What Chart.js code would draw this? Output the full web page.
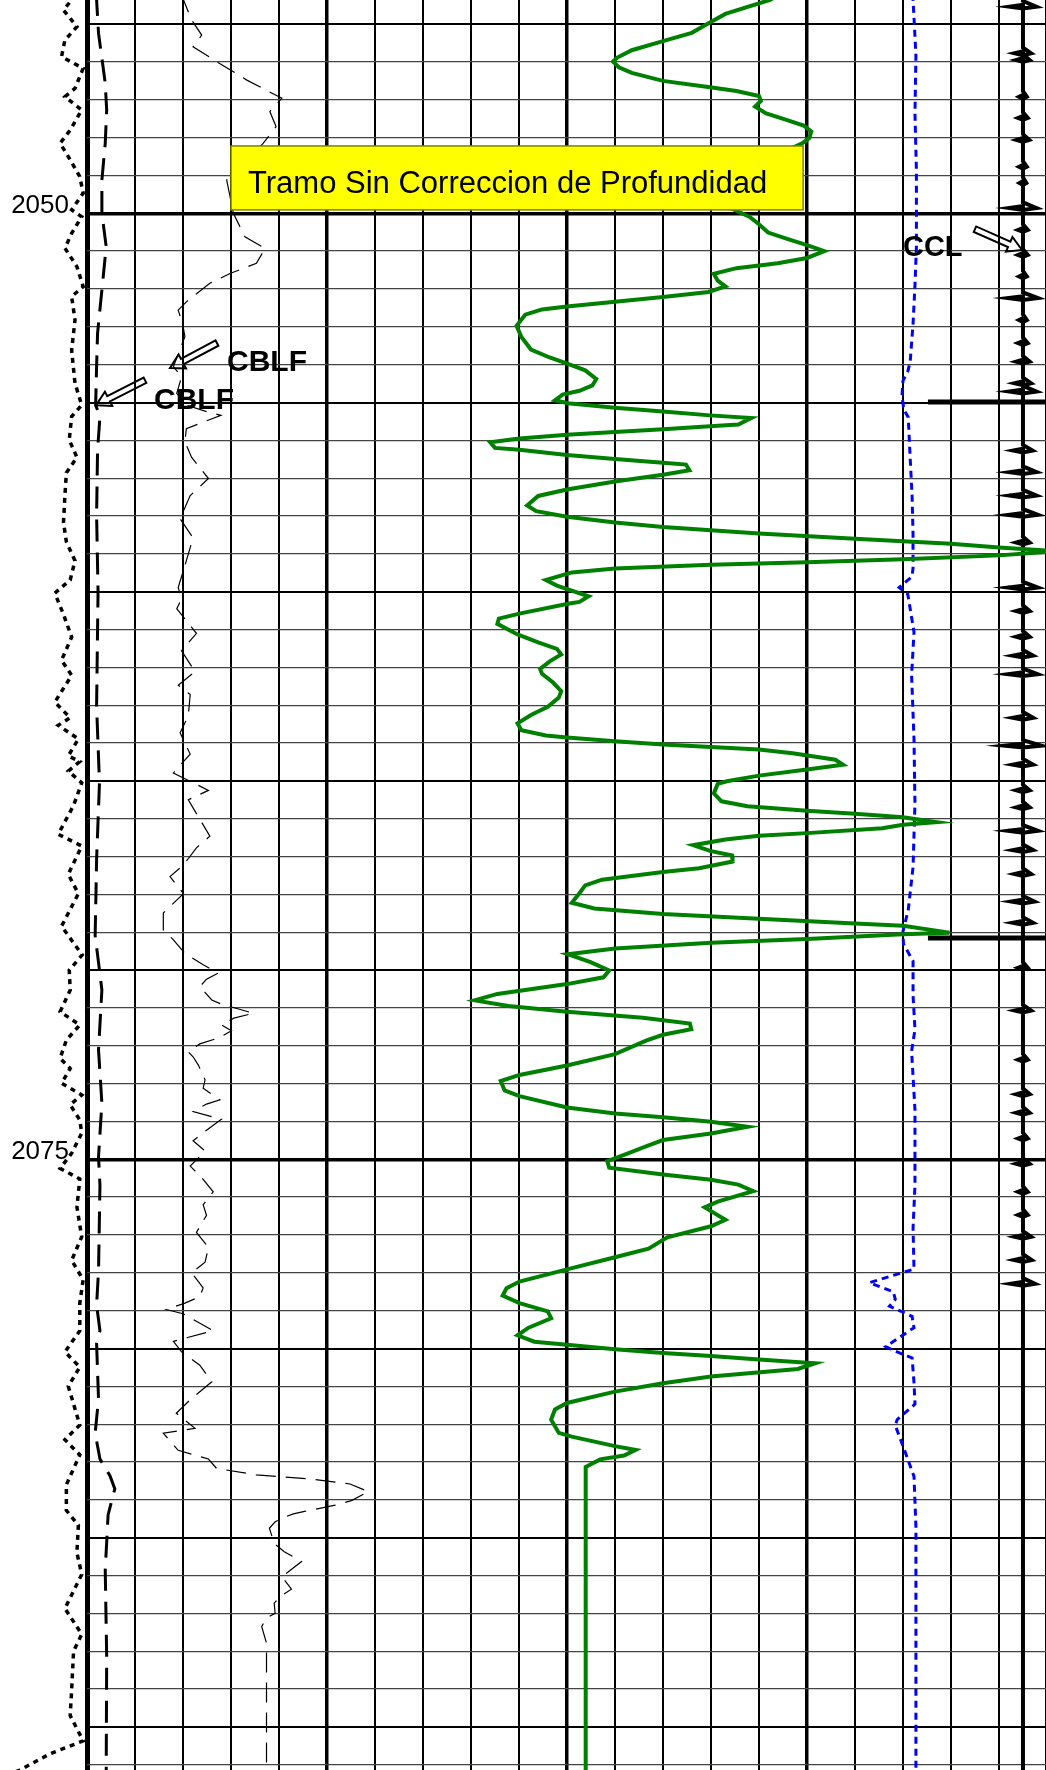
<!DOCTYPE html>
<html>
<head>
<meta charset="utf-8">
<title>Registro CBL</title>
<script src="https://cdn.jsdelivr.net/npm/chart.js@4.4.1/dist/chart.umd.min.js"></script>
<style>
  html, body { margin: 0; padding: 0; background: #fff; }
  #wrap { width: 1046px; height: 1770px; }
</style>
</head>
<body>
<div id="wrap"><canvas id="logChart" width="1046" height="1770"></canvas></div>
<script>
// depth window (m) and the track, counted in grid divisions
const depthTop = 2044.363;
const depthBottom = 2091.139;
const depthLabels = [2050, 2075];
const trackRight = 19.98;

// green amplitude curve
const ampDepth = [
  2044.2, 2044.36, 2044.73, 2044.98, 2045.23, 2045.45, 2045.69, 2045.89, 2045.99, 2046.14,
  2046.29, 2046.5, 2046.67, 2046.77, 2046.9, 2047.03, 2047.18, 2047.36, 2047.52, 2047.68,
  2047.84, 2048.01, 2048.16, 2048.5, 2048.9, 2049.4, 2049.8, 2050.09, 2050.29, 2050.51,
  2050.69, 2050.84, 2051.0, 2051.18, 2051.32, 2051.45, 2051.6, 2051.78, 2051.93, 2052.08,
  2052.21, 2052.34, 2052.46, 2052.54, 2052.68, 2052.97, 2053.27, 2053.6, 2053.81, 2053.98,
  2054.15, 2054.38, 2054.55, 2054.69, 2054.79, 2054.94, 2055.02, 2055.14, 2055.24, 2055.34,
  2055.41, 2055.58, 2055.63, 2055.71, 2055.78, 2055.85, 2055.95, 2056.05, 2056.2, 2056.25,
  2056.39, 2056.49, 2056.59, 2056.64, 2056.79, 2056.91, 2057.09, 2057.3, 2057.47, 2057.72,
  2057.87, 2058.02, 2058.17, 2058.29, 2058.46, 2058.6, 2058.73, 2058.83, 2058.93, 2059.04,
  2059.14, 2059.22, 2059.29, 2059.39, 2059.49, 2059.69, 2059.84, 2060.12, 2060.27, 2060.32,
  2060.58, 2060.71, 2060.85, 2061.13, 2061.34, 2061.51, 2061.66, 2061.84, 2062.04, 2062.17,
  2062.4, 2062.63, 2062.8, 2063.04, 2063.26, 2063.48, 2063.66, 2063.8, 2063.85, 2063.95,
  2064.04, 2064.17, 2064.27, 2064.44, 2064.57, 2064.7, 2064.86, 2065.01, 2065.08, 2065.33,
  2065.54, 2065.67, 2065.79, 2065.87, 2065.96, 2066.09, 2066.16, 2066.25, 2066.38, 2066.45,
  2066.55, 2066.7, 2066.85, 2066.97, 2067.13, 2067.31, 2067.41, 2067.61, 2067.76, 2067.97,
  2068.22, 2068.37, 2068.52, 2068.64, 2068.77, 2068.83, 2069.01, 2069.05, 2069.18, 2069.28,
  2069.43, 2069.58, 2069.79, 2070.01, 2070.19, 2070.37, 2070.63, 2070.8, 2070.95, 2071.1,
  2071.26, 2071.41, 2071.56, 2071.71, 2071.86, 2072.22, 2072.52, 2072.77, 2072.93, 2073.18,
  2073.33, 2073.63, 2073.79, 2073.89, 2074.01, 2074.14, 2074.32, 2074.49, 2074.65, 2074.88,
  2075.05, 2075.22, 2075.4, 2075.54, 2075.67, 2075.84, 2076.12, 2076.27, 2076.6, 2076.77,
  2077.06, 2077.36, 2077.59, 2077.91, 2078.23, 2078.41, 2078.6, 2078.8, 2079.02, 2079.2,
  2079.45, 2079.65, 2079.82, 2079.9, 2080.02, 2080.12, 2080.2, 2080.29, 2080.39, 2080.54,
  2080.74, 2080.92, 2081.14, 2081.44, 2081.61, 2081.88, 2082.23, 2082.33, 2082.58, 2082.68,
  2082.83, 2082.93, 2083.13, 2091.3
];
const ampValue = [
  14.45, 14.23, 13.3, 12.95, 12.6, 12.0, 11.35, 11.04, 10.96, 11.08,
  11.35, 12.0, 12.98, 13.53, 14.0, 14.04, 13.92, 14.15, 14.54, 14.93,
  15.09, 15.05, 14.89, 14.3, 13.4, 13.1, 13.3, 13.8, 14.0, 14.19,
  14.62, 15.0, 15.36, 15.0, 14.39, 13.53, 13.06, 13.14, 13.3, 12.95,
  12.0, 11.0, 10.0, 9.48, 9.13, 8.95, 9.05, 9.25, 9.64, 10.02,
  10.38, 10.61, 10.53, 10.26, 9.91, 9.75, 10.02, 11.0, 12.0, 12.98,
  13.84, 13.57, 12.98, 12.0, 11.0, 10.0, 9.01, 8.4, 8.5, 9.01,
  10.0, 11.0, 12.0, 12.48, 12.55, 12.0, 11.0, 10.0, 9.4, 9.17,
  9.36, 10.0, 11.0, 12.0, 14.0, 16.0, 18.0, 19.0, 20.2, 19.0,
  17.0, 15.0, 13.0, 11.0, 10.1, 9.56, 9.79, 10.45, 10.26, 10.02,
  9.01, 8.58, 8.55, 8.97, 9.4, 9.79, 9.88, 9.64, 9.44, 9.48,
  9.71, 9.88, 9.83, 9.6, 9.25, 8.97, 9.05, 9.56, 10.0, 11.0,
  12.0, 14.0, 14.7, 15.59, 15.75, 15.0, 14.0, 13.33, 13.14, 13.06,
  13.22, 13.76, 15.0, 16.0, 17.0, 17.7, 17.0, 16.57, 15.0, 14.0,
  13.3, 12.63, 12.98, 13.44, 13.45, 12.75, 12.0, 10.73, 10.38, 10.26,
  10.1, 10.57, 12.0, 14.0, 16.0, 17.0, 17.97, 17.0, 15.0, 13.0,
  11.0, 10.02, 10.49, 10.88, 10.76, 10.0, 8.55, 8.08, 8.78, 10.0,
  11.58, 12.56, 12.59, 12.0, 11.66, 11.0, 10.0, 9.01, 8.62, 8.7,
  9.01, 10.0, 11.0, 12.0, 13.0, 13.76, 13.0, 12.0, 11.66, 11.19,
  10.84, 10.88, 12.0, 13.0, 13.57, 13.88, 13.14, 12.87, 13.3, 13.0,
  12.09, 11.7, 11.0, 10.0, 9.01, 8.74, 8.66, 9.01, 9.6, 9.67,
  9.2, 8.97, 9.32, 10.0, 11.0, 12.0, 13.0, 14.0, 15.17, 14.81,
  13.0, 12.0, 11.0, 10.0, 9.75, 9.67, 9.83, 10.1, 11.0, 11.43,
  11.19, 10.69, 10.39, 10.39
];

// CBLF, fine scale (thin dashed)
const cblfDepth = [
  2044.2, 2044.36, 2044.89, 2045.29, 2045.6, 2045.99, 2046.48, 2046.96, 2047.31, 2047.71,
  2048.15, 2049.12, 2050.0, 2050.62, 2050.93, 2051.32, 2051.59, 2051.85, 2052.34, 2052.56,
  2052.91, 2053.26, 2054.05, 2054.32, 2054.76, 2055.07, 2055.24, 2055.34, 2055.69, 2056.04,
  2056.45, 2057.01, 2057.26, 2057.46, 2058.07, 2058.58, 2059.18, 2059.89, 2060.19, 2060.45,
  2061.1, 2061.56, 2062.11, 2062.47, 2062.72, 2063.28, 2063.73, 2064.29, 2064.79, 2065.25,
  2065.5, 2066.46, 2066.77, 2067.22, 2067.53, 2067.98, 2068.49, 2068.94, 2069.2, 2069.56,
  2069.86, 2070.08, 2070.24, 2070.44, 2070.79, 2070.9, 2071.14, 2071.27, 2071.45, 2071.6,
  2071.78, 2071.95, 2072.16, 2072.29, 2072.51, 2072.9, 2073.12, 2073.43, 2073.54, 2073.74,
  2073.94, 2074.23, 2074.51, 2074.78, 2075.18, 2075.47, 2075.86, 2076.2, 2076.48, 2076.93,
  2077.33, 2077.72, 2078.0, 2078.4, 2078.63, 2078.8, 2078.97, 2079.08, 2079.53, 2079.81,
  2080.09, 2080.44, 2080.88, 2081.32, 2081.71, 2082.11, 2082.24, 2082.69, 2082.92, 2083.17,
  2083.34, 2083.45, 2083.58, 2083.78, 2084.02, 2084.14, 2084.31, 2084.37, 2084.47, 2084.58,
  2084.75, 2085.15, 2085.37, 2085.63, 2086.03, 2086.36, 2086.56, 2086.73, 2087.0, 2087.13,
  2087.35, 2087.79, 2091.3
];
const cblfValue = [
  1.95, 2.01, 2.18, 2.39, 2.21, 2.7, 3.33, 4.06, 3.81, 3.94,
  3.67, 2.91, 3.05, 3.29, 3.71, 3.53, 2.98, 2.56, 2.07, 1.9,
  1.99, 2.04, 1.8, 1.97, 1.87, 2.07, 2.49, 2.79, 2.07, 2.04,
  2.18, 2.53, 2.32, 2.15, 1.94, 2.21, 2.07, 1.9, 1.97, 1.87,
  2.28, 1.97, 2.25, 1.9, 2.15, 2.11, 1.94, 2.15, 1.8, 2.53,
  2.11, 2.56, 2.28, 2.01, 1.73, 2.01, 1.59, 1.59, 1.8, 2.04,
  2.42, 2.73, 2.49, 2.35, 2.6, 2.8, 3.47, 3.06, 2.8, 3.01,
  2.77, 2.35, 2.11, 2.21, 2.32, 2.46, 2.42, 2.77, 2.49, 2.21,
  2.8, 2.49, 2.21, 2.46, 2.15, 2.38, 2.63, 2.42, 2.49, 2.28,
  2.53, 2.46, 2.18, 2.42, 2.35, 2.04, 1.65, 2.0, 2.63, 1.8,
  1.97, 2.35, 2.6, 2.18, 1.86, 2.25, 1.59, 1.9, 2.53, 2.7,
  3.53, 4.65, 5.48, 5.86, 5.51, 5.17, 4.51, 4.3, 4.09, 3.92,
  3.8, 3.9, 4.11, 4.47, 4.06, 4.26, 4.02, 3.9, 3.92, 3.73,
  3.64, 3.74, 3.74
];

// CBLF, coarse scale (heavy dashed)
const cblfCoarseDepth = [
  2044.2, 2044.36, 2045.24, 2046.56, 2047.27, 2048.15, 2049.12, 2050.0, 2050.88, 2052.03,
  2053.17, 2054.05, 2055.07, 2055.37, 2056.26, 2057.97, 2059.99, 2063.03, 2065.05, 2067.07,
  2069.09, 2070.1, 2070.53, 2072.11, 2073.52, 2074.93, 2075.69, 2077.95, 2078.85, 2079.53,
  2079.87, 2081.33, 2082.24, 2082.92, 2083.37, 2083.71, 2084.39, 2085.85, 2088.12, 2091.3
];
const cblfCoarseValue = [
  0.2, 0.2, 0.24, 0.38, 0.41, 0.38, 0.31, 0.31, 0.4, 0.31,
  0.22, 0.2, 0.18, 0.27, 0.22, 0.2, 0.23, 0.2, 0.26, 0.2,
  0.17, 0.27, 0.31, 0.24, 0.31, 0.24, 0.27, 0.24, 0.2, 0.27,
  0.2, 0.24, 0.17, 0.27, 0.48, 0.58, 0.44, 0.38, 0.41, 0.4
];

// dotted curve in the depth column
const depthColDepth = [
  2044.2, 2044.36, 2044.63, 2045.07, 2045.42, 2045.86, 2046.17, 2046.7, 2046.92, 2047.27,
  2047.8, 2048.15, 2048.5, 2049.03, 2049.47, 2049.91, 2050.09, 2050.53, 2050.92, 2051.41,
  2051.94, 2052.2, 2052.82, 2053.62, 2054.49, 2055.07, 2055.37, 2055.99, 2056.45, 2056.86,
  2057.46, 2058.17, 2058.68, 2059.18, 2059.69, 2060.04, 2060.6, 2061.2, 2061.81, 2062.21,
  2062.92, 2063.33, 2063.53, 2063.89, 2064.34, 2064.49, 2064.74, 2065.05, 2065.65, 2066.41,
  2066.72, 2067.47, 2067.98, 2068.84, 2069.6, 2070.0, 2070.53, 2071.1, 2071.45, 2071.85,
  2072.33, 2072.6, 2072.99, 2073.3, 2073.56, 2073.96, 2074.31, 2074.84, 2075.24, 2075.52,
  2076.26, 2077.05, 2077.67, 2078.18, 2078.8, 2079.53, 2080.09, 2080.49, 2081.0, 2082.02,
  2082.41, 2082.81, 2083.6, 2084.28, 2084.67, 2085.4, 2085.97, 2086.87, 2087.55, 2088.0,
  2089.02, 2089.7, 2090.37, 2090.71, 2091.14, 2091.3
];
const depthColValue = [
  -0.28, -0.32, -0.49, -0.21, -0.46, -0.53, -0.08, -0.25, -0.46, -0.11,
  -0.35, -0.56, -0.39, -0.15, -0.08, -0.32, -0.11, -0.32, -0.46, -0.21,
  -0.08, -0.32, -0.25, -0.32, -0.25, -0.11, -0.32, -0.37, -0.21, -0.43,
  -0.46, -0.49, -0.43, -0.25, -0.35, -0.67, -0.49, -0.32, -0.53, -0.32,
  -0.67, -0.35, -0.6, -0.18, -0.39, -0.15, -0.39, -0.11, -0.28, -0.6,
  -0.11, -0.39, -0.18, -0.53, -0.1, -0.37, -0.35, -0.56, -0.15, -0.43,
  -0.56, -0.35, -0.53, -0.11, -0.35, -0.15, -0.11, -0.32, -0.56, -0.15,
  -0.21, -0.11, -0.32, -0.08, -0.15, -0.15, -0.46, -0.15, -0.39, -0.15,
  -0.46, -0.15, -0.43, -0.43, -0.18, -0.21, -0.11, -0.46, -0.11, -0.28,
  -0.32, -0.35, -0.08, -0.77, -1.4, -1.7
];

// blue dotted curve
const blueDepth = [
  2044.2, 2044.36, 2044.83, 2045.84, 2047.36, 2048.87, 2049.98, 2050.9, 2051.91, 2052.92,
  2053.93, 2054.18, 2054.43, 2054.84, 2055.19, 2055.39, 2056.46, 2057.47, 2058.48, 2059.37,
  2059.6, 2059.89, 2060.06, 2061.07, 2062.2, 2063.9, 2065.59, 2067.28, 2068.41, 2068.98,
  2069.31, 2069.76, 2070.67, 2071.57, 2072.14, 2073.69, 2075.69, 2076.82, 2077.9, 2078.26,
  2078.5, 2078.7, 2078.88, 2079.15, 2079.45, 2079.95, 2080.05, 2080.25, 2080.9, 2081.47,
  2081.88, 2082.03, 2082.68, 2083.38, 2084.72, 2091.3
];
const blueValue = [
  17.21, 17.21, 17.23, 17.27, 17.25, 17.28, 17.28, 17.28, 17.25, 17.21,
  17.15, 17.1, 17.0, 16.98, 17.02, 17.11, 17.15, 17.19, 17.21, 17.21,
  17.19, 16.92, 17.1, 17.23, 17.18, 17.23, 17.25, 17.21, 17.11, 17.0,
  17.01, 17.21, 17.21, 17.25, 17.18, 17.25, 17.25, 17.21, 17.23, 16.3,
  16.8, 16.84, 16.72, 17.19, 17.23, 16.64, 16.8, 17.19, 17.23, 17.25,
  16.88, 16.84, 17.03, 17.23, 17.27, 17.27
];

// CCL: baseline, pulse depths and half widths, collar marks
const cclBase = 19.5;
const cclPulseDepth = [
  2044.54, 2045.77, 2045.95, 2046.92, 2047.48, 2048.06, 2048.77, 2049.2, 2049.86, 2050.44,
  2051.1, 2051.67, 2052.24, 2052.82, 2053.43, 2053.92, 2054.49, 2054.71, 2056.27, 2056.84,
  2057.46, 2057.97, 2058.7, 2059.89, 2060.51, 2061.19, 2061.69, 2062.18, 2063.33, 2064.07,
  2064.57, 2065.25, 2065.7, 2066.32, 2066.83, 2067.46, 2068.19, 2068.75, 2069.94, 2071.07,
  2072.37, 2073.28, 2073.77, 2074.45, 2075.12, 2075.86, 2076.47, 2077.05, 2077.66, 2078.29
];
const cclPulseAmp = [
  0.28, 0.17, 0.14, 0.08, 0.1, 0.13, 0.08, 0.07, 0.28, 0.1,
  0.1, 0.08, 0.31, 0.08, 0.1, 0.14, 0.17, 0.28, 0.2, 0.28,
  0.28, 0.31, 0.14, 0.31, 0.14, 0.14, 0.21, 0.31, 0.21, 0.38,
  0.21, 0.14, 0.14, 0.31, 0.21, 0.17, 0.24, 0.21, 0.1, 0.17,
  0.1, 0.14, 0.14, 0.1, 0.14, 0.1, 0.1, 0.17, 0.18, 0.25
];
const collarDepth = [2054.99, 2069.15];
const collarStart = 17.52;

function toPoints(depths, values) {
  return depths.map((d, i) => ({ x: values[i], y: d }));
}

// each pulse is traced as a thin diamond around the baseline
function cclPoints() {
  const h = 0.05;
  const pts = [{ x: cclBase, y: depthTop - 0.3 }];
  cclPulseDepth.forEach((d, i) => {
    const a = cclPulseAmp[i];
    pts.push({ x: cclBase, y: d - 3 * h });
    pts.push({ x: cclBase + a, y: d });
    pts.push({ x: cclBase, y: d + h });
    pts.push({ x: cclBase - a, y: d });
    pts.push({ x: cclBase, y: d - h });
    pts.push({ x: cclBase, y: d + 3 * h });
  });
  pts.push({ x: cclBase, y: depthBottom + 0.3 });
  return pts;
}

// text boxes, tags and arrows (positions in track divisions / metres)
const noteBox = { text: 'Tramo Sin Correccion de Profundidad', x0: 3.0, x1: 14.92, d0: 2048.22, d1: 2049.91, tx: 3.354, td: 2049.46 };
const curveTags = [
  { text: 'CBLF', x: 2.917, d: 2054.17, size: 30, from: [2.708, 2053.43], to: [1.729, 2054.09] },
  { text: 'CBLF', x: 1.396, d: 2055.17, size: 30, from: [1.208, 2054.41], to: [0.19, 2055.07] },
  { text: 'CCL', x: 17.0, d: 2051.13, size: 29, from: [18.5, 2050.42], to: [19.48, 2050.97] }
];

function hollowArrow(ctx, x0, y0, x1, y1) {
  const ang = Math.atan2(y1 - y0, x1 - x0);
  const len = Math.hypot(x1 - x0, y1 - y0);
  ctx.save();
  ctx.translate(x1, y1);
  ctx.rotate(ang);
  ctx.beginPath();
  ctx.moveTo(0, 0);
  ctx.lineTo(-14, -8);
  ctx.lineTo(-14, -3);
  ctx.lineTo(-len, -3);
  ctx.lineTo(-len, 3);
  ctx.lineTo(-14, 3);
  ctx.lineTo(-14, 8);
  ctx.closePath();
  ctx.lineWidth = 2;
  ctx.strokeStyle = '#000';
  ctx.stroke();
  ctx.restore();
}

const annotations = {
  id: 'annotations',
  afterDatasetsDraw(chart) {
    const { ctx } = chart;
    const x = chart.scales.x, y = chart.scales.y;
    ctx.save();
    const bx0 = x.getPixelForValue(noteBox.x0), bx1 = x.getPixelForValue(noteBox.x1);
    const by0 = y.getPixelForValue(noteBox.d0), by1 = y.getPixelForValue(noteBox.d1);
    ctx.fillStyle = '#ffff00';
    ctx.fillRect(bx0, by0, bx1 - bx0, by1 - by0);
    ctx.strokeStyle = '#808000';
    ctx.lineWidth = 1.5;
    ctx.strokeRect(bx0, by0, bx1 - bx0, by1 - by0);
    ctx.fillStyle = '#000';
    ctx.font = "31px 'Liberation Sans', Arial, sans-serif";
    ctx.textBaseline = 'alphabetic';
    ctx.textAlign = 'left';
    ctx.fillText(noteBox.text, x.getPixelForValue(noteBox.tx), y.getPixelForValue(noteBox.td));

    curveTags.forEach(t => {
      hollowArrow(ctx, x.getPixelForValue(t.from[0]), y.getPixelForValue(t.from[1]),
        x.getPixelForValue(t.to[0]), y.getPixelForValue(t.to[1]));
      ctx.fillStyle = '#000';
      ctx.font = "bold " + t.size + "px 'Liberation Sans', Arial, sans-serif";
      ctx.fillText(t.text, x.getPixelForValue(t.x), y.getPixelForValue(t.d));
    });
    ctx.restore();
  }
};

const datasets = [
  { label: 'Amplitud', data: toPoints(ampDepth, ampValue), borderColor: '#008000', borderWidth: 4 },
  { label: 'CBLF', data: toPoints(cblfDepth, cblfValue), borderColor: '#000', borderWidth: 1.2, borderDash: [20, 10] },
  { label: 'CBLF grueso', data: toPoints(cblfCoarseDepth, cblfCoarseValue), borderColor: '#000', borderWidth: 3, borderDash: [22, 11] },
  { label: 'Columna', data: toPoints(depthColDepth, depthColValue), borderColor: '#000', borderWidth: 3.5, borderDash: [5, 5], clip: false },
  { label: 'Azul', data: toPoints(blueDepth, blueValue), borderColor: '#0000ff', borderWidth: 3, borderDash: [7, 5] },
  { label: 'CCL', data: cclPoints(), borderColor: '#000', borderWidth: 4, borderJoinStyle: 'miter' }
];
collarDepth.forEach(d => {
  datasets.push({ label: 'Cupla', data: [{ x: collarStart, y: d }, { x: 20.5, y: d }], borderColor: '#000', borderWidth: 5 });
});
datasets.forEach(ds => {
  ds.showLine = true;
  ds.pointRadius = 0;
  ds.tension = 0;
  ds.fill = false;
});

new Chart(document.getElementById('logChart'), {
  type: 'scatter',
  data: { datasets: datasets },
  options: {
    responsive: false,
    animation: false,
    devicePixelRatio: 1,
    layout: { padding: 0, autoPadding: false },
    plugins: { legend: { display: false }, tooltip: { enabled: false } },
    scales: {
      x: {
        type: 'linear',
        position: 'bottom',
        min: 0,
        max: trackRight,
        afterBuildTicks: s => {
          const t = [];
          for (let i = 0; i < 20; i++) t.push({ value: i });
          t.push({ value: trackRight });
          s.ticks = t;
        },
        afterFit: s => { s.height = 0; s.paddingLeft = 0; s.paddingRight = 0; },
        ticks: { display: false },
        border: { display: false },
        grid: {
          drawTicks: false,
          color: '#000',
          lineWidth: c => c.tick.value === 0 ? 5 : (c.tick.value % 5 === 0 ? 3.5 : 2)
        }
      },
      y: {
        type: 'linear',
        position: 'left',
        reverse: true,
        min: depthTop,
        max: depthBottom,
        afterBuildTicks: s => {
          const t = [];
          for (let d = Math.ceil(depthTop); d <= Math.floor(depthBottom); d++) t.push({ value: d });
          s.ticks = t;
        },
        afterFit: s => { s.width = 87; s.paddingTop = 0; s.paddingBottom = 0; },
        ticks: {
          autoSkip: false,
          padding: 18,
          labelOffset: -7,
          color: '#000',
          font: { family: "'Liberation Sans', Arial, sans-serif", size: 26 },
          callback: v => depthLabels.includes(v) ? String(v) : ''
        },
        border: { display: false },
        grid: {
          drawTicks: false,
          color: c => c.tick.value % 5 === 0 ? '#000' : '#444',
          lineWidth: c => c.tick.value % 25 === 0 ? 3.5 : (c.tick.value % 5 === 0 ? 2 : 1.3)
        }
      }
    }
  },
  plugins: [annotations]
});
</script>
</body>
</html>
